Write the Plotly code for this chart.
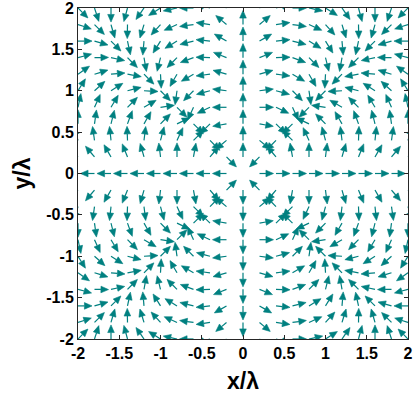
import math
import plotly.graph_objects as go

# Grid coordinates (in units of wavelength)
grid_vals = [-2.0, -1.8, -1.6, -1.4, -1.2, -1.0, -0.8, -0.6, -0.4, -0.2, 0.0,
             0.2, 0.4, 0.6, 0.8, 1.0, 1.2, 1.4, 1.6, 1.8, 2.0]

# Arrow directions (degrees) read for the upper-left quadrant (x<0, y>0).
# rows: |y| = 0.2 ... 2.0 ; columns: |x| = 0.2 ... 2.0
quad_abs = [0.2, 0.4, 0.6, 0.8, 1.0, 1.2, 1.4, 1.6, 1.8, 2.0]
quad_angles = [
    # |x|: 0.2   0.4   0.6   0.8   1.0   1.2   1.4   1.6   1.8   2.0
    [-45,   50,   80,   90,   97,  106,  112,  120,  130,  138],   # |y|=0.2
    [-140, -45,   45,   65,   75,   83,   92,   96,   98,  108],   # |y|=0.4
    [-170, -135, -45,   25,   45,   60,   70,   76,   82,   90],   # |y|=0.6
    [180,  -155, -115, -45,    8,   30,   45,   59,   66,   78],   # |y|=0.8
    [173,  -165, -135, -98,  -45,   -3,   14,   32,   42,   58],   # |y|=1.0
    [164,  -173, -150, -120, -87,  -45,  -10,    5,   17,   35],   # |y|=1.2
    [158,   178, -160, -135, -104, -80,  -45,  -12,    1,   15],   # |y|=1.4
    [150,   174, -166, -149, -122, -95,  -78,  -45,  -16,    0],   # |y|=1.6
    [140,   172, -172, -156, -132, -107, -91,  -74,  -45,  -18],   # |y|=1.8
    [132,   162,  180, -168, -148, -125, -105, -90,  -72,  -45],   # |y|=2.0
]
# Directions along the axes
axis_x_neg, axis_x_pos = 180, 0
axis_y_pos, axis_y_neg = 90, -90

TEAL = "#008080"
ARROW_LEN = 0.17
HEAD_LEN = 0.092
HEAD_HALF = 0.04


def idx(v):
    return min(range(len(quad_abs)), key=lambda i: abs(quad_abs[i] - abs(v)))


def angle_at(x, y):
    if abs(x) < 1e-9 and abs(y) < 1e-9:
        return None
    if abs(y) < 1e-9:
        return axis_x_neg if x < 0 else axis_x_pos
    if abs(x) < 1e-9:
        return axis_y_pos if y > 0 else axis_y_neg
    th = quad_angles[idx(y)][idx(x)]
    if x > 0:
        th = 180 - th
    if y < 0:
        th = -th
    return th


shaft_x, shaft_y, head_x, head_y = [], [], [], []
for y in grid_vals:
    for x in grid_vals:
        th = angle_at(x, y)
        if th is None:
            continue
        r = math.radians(th)
        dx, dy = math.cos(r), math.sin(r)
        tx, ty = x + ARROW_LEN * dx, y + ARROW_LEN * dy
        bx, by = tx - HEAD_LEN * dx, ty - HEAD_LEN * dy
        nx, ny = -dy, dx
        shaft_x += [x, bx, None]
        shaft_y += [y, by, None]
        head_x += [tx, bx + HEAD_HALF * nx, bx - HEAD_HALF * nx, tx, None]
        head_y += [ty, by + HEAD_HALF * ny, by - HEAD_HALF * ny, ty, None]

fig = go.Figure()
fig.add_trace(go.Scatter(x=shaft_x, y=shaft_y, mode="lines",
                         line=dict(color=TEAL, width=1.2),
                         hoverinfo="skip", showlegend=False))
fig.add_trace(go.Scatter(x=head_x, y=head_y, mode="lines", fill="toself",
                         fillcolor=TEAL, line=dict(color=TEAL, width=0.6),
                         hoverinfo="skip", showlegend=False))

tick_vals = [-2, -1.5, -1, -0.5, 0, 0.5, 1, 1.5, 2]
tick_text = ["-2", "-1.5", "-1", "-0.5", "0", "0.5", "1", "1.5", "2"]
FONT = "Liberation Sans, Arial"

axis_common = dict(
    range=[-2, 2], tickvals=tick_vals,
    ticktext=["<b>%s</b>" % t for t in tick_text],
    showgrid=False, zeroline=False, showline=True, mirror="ticks",
    linecolor="#262626", linewidth=1, ticks="inside", ticklen=4,
    tickcolor="#262626", automargin=False, ticklabeloverflow="allow",
    tickfont=dict(family=FONT, size=16, color="black"),
)

fig.update_layout(
    width=416, height=416,
    margin=dict(l=78, r=8, t=8, b=77),
    plot_bgcolor="white", paper_bgcolor="white",
    xaxis=dict(**axis_common,
               title=dict(text="<b>x/λ</b>", standoff=11,
                          font=dict(family=FONT, size=23, color="black"))),
    yaxis=dict(**axis_common,
               title=dict(text="<b>y/λ</b>", standoff=9,
                          font=dict(family=FONT, size=23, color="black"))),
)

fig.write_html("out.html",
               config={"displayModeBar": False, "staticPlot": True},
               post_script="document.body.style.margin='0px';"
                           "document.body.style.overflow='hidden';")
